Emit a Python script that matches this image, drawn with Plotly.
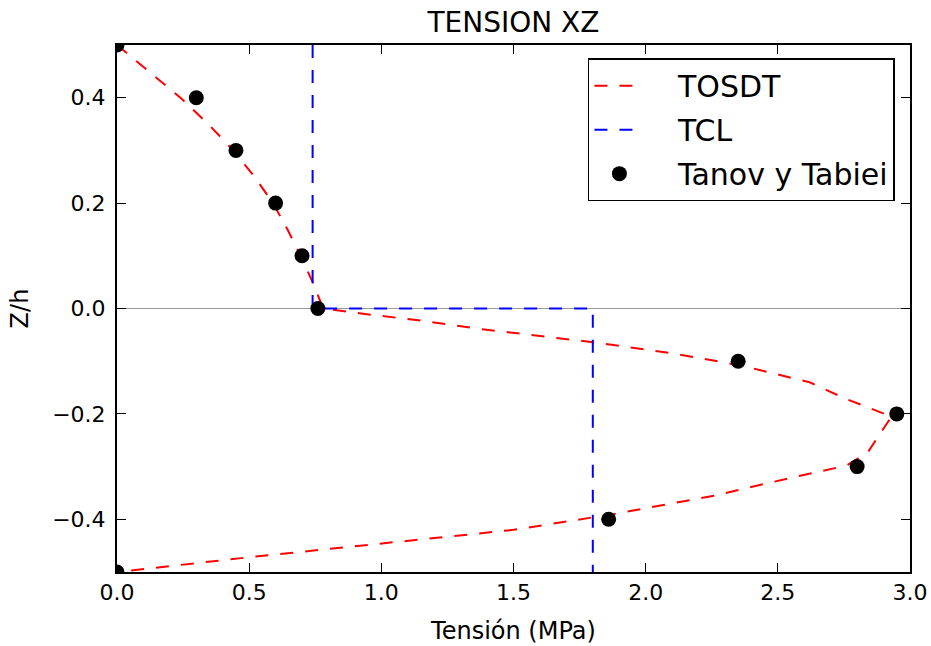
import plotly.graph_objects as go

# TOSDT through-thickness shear stress profile (Tensión in MPa vs Z/h)
tosdt_x = [0.0, 0.12, 0.24, 0.345, 0.44, 0.52, 0.59, 0.645, 0.695, 0.74, 0.78,
           0.93, 1.15, 1.36, 1.58, 1.80, 2.10, 2.36, 2.62, 2.76, 2.93,
           2.84, 2.76, 2.56, 2.26, 1.88, 1.50, 1.00, 0.50, 0.0]
tosdt_z = [0.5, 0.45, 0.4, 0.35, 0.3, 0.25, 0.2, 0.15, 0.1, 0.05, 0.0,
           -0.01, -0.023, -0.038, -0.051, -0.064, -0.085, -0.108, -0.14, -0.172, -0.205,
           -0.273, -0.298, -0.32, -0.355, -0.39, -0.42, -0.446, -0.472, -0.5]

# Classical laminate theory (piecewise constant)
tcl_x = [0.74, 0.74, 1.80, 1.80]
tcl_z = [0.5, 0.0, 0.0, -0.5]

# Tanov y Tabiei reference values
tt_x = [0.0, 0.30, 0.45, 0.60, 0.70, 0.76, 2.35, 2.95, 2.80, 1.86, 0.0]
tt_z = [0.5, 0.4, 0.3, 0.2, 0.1, 0.0, -0.1, -0.2, -0.3, -0.4, -0.5]

x_ticks = [0.0, 0.5, 1.0, 1.5, 2.0, 2.5, 3.0]
y_ticks = [-0.4, -0.2, 0.0, 0.2, 0.4]

FONT = "DejaVu Sans"
PAD = "\u00a0" * 3  # extra room between legend sample and label


def legend_name(label):
    return PAD + label


fig = go.Figure()
fig.add_trace(go.Scatter(
    x=tosdt_x, y=tosdt_z, mode="lines", name=legend_name("TOSDT"), legendgroup="a",
    line=dict(color="#ff0000", width=2, dash="13px,12px"),
))
fig.add_trace(go.Scatter(
    x=tcl_x, y=tcl_z, mode="lines", name=legend_name("TCL"), legendgroup="b",
    line=dict(color="#0000ff", width=2, dash="13px,12px"),
))
fig.add_trace(go.Scatter(
    x=tt_x, y=tt_z, mode="markers", name=legend_name("Tanov y Tabiei"), legendgroup="c",
    marker=dict(color="black", size=15, line=dict(width=0)),
))

axis_common = dict(
    showline=True, linecolor="black", linewidth=2, mirror="ticks",
    ticks="inside", ticklen=9, tickwidth=1.2, tickcolor="black",
    showgrid=False, tickfont=dict(family=FONT, size=22, color="black"),
    tickformat=".1f", automargin=False,
)

fig.update_layout(
    width=931, height=646,
    margin=dict(l=117, r=21, t=45, b=74),
    paper_bgcolor="white", plot_bgcolor="white",
    font=dict(family=FONT, color="black"),
    title=dict(text="TENSION XZ", x=0.5515, xanchor="center",
               y=1 - 22 / 646, yanchor="middle", yref="container",
               font=dict(family=FONT, size=28, color="black")),
    xaxis=dict(range=[0, 3], tickvals=x_ticks, zeroline=False,
               title=dict(text="Tensión (MPa)", standoff=18,
                          font=dict(family=FONT, size=24, color="black")),
               **axis_common),
    yaxis=dict(range=[-0.5, 0.5], tickvals=y_ticks, ticklabelstandoff=5,
               zeroline=True, zerolinecolor="#9a9a9a", zerolinewidth=1.2,
               title=dict(text="Z/h", standoff=17,
                          font=dict(family=FONT, size=24, color="black")),
               **axis_common),
    legend=dict(x=0.981, y=0.975, xanchor="right", yanchor="top",
                bgcolor="white", bordercolor="black", borderwidth=1.5,
                font=dict(family=FONT, size=30, color="black"),
                itemwidth=50, tracegroupgap=2),
    showlegend=True,
)

fig.write_html("out.html")
